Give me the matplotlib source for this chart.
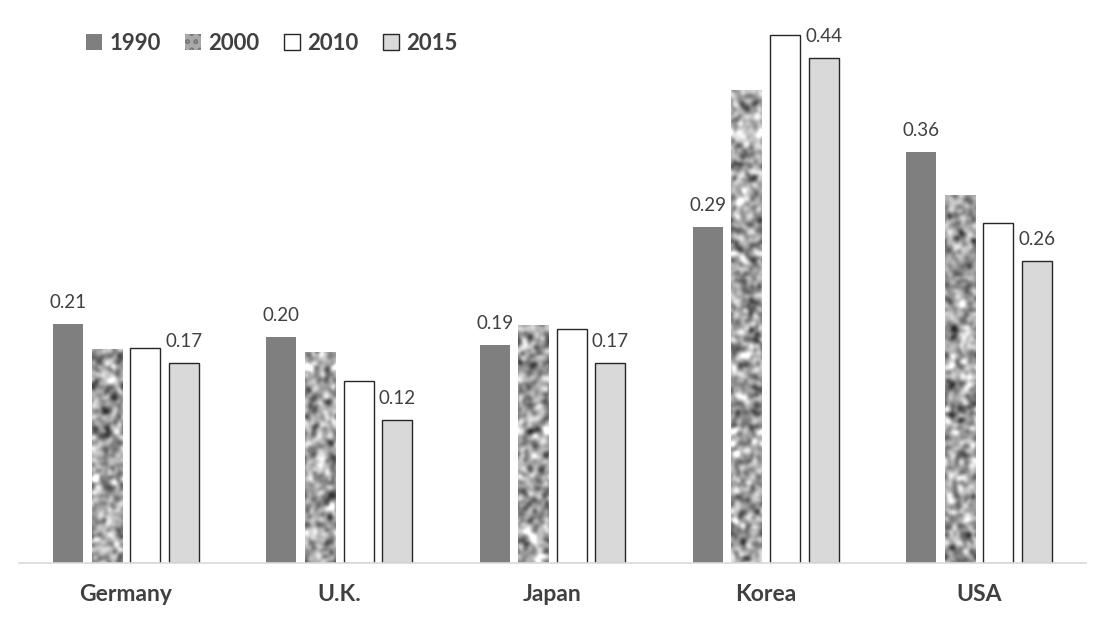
import numpy as np
import matplotlib
matplotlib.use("Agg")
import matplotlib.pyplot as plt
from matplotlib.patches import Patch

categories = ["Germany", "U.K.", "Japan", "Korea", "USA"]
years = ["1990", "2000", "2010", "2015"]
v1990 = [0.208, 0.196, 0.189, 0.292, 0.357]
v2000 = [0.186, 0.183, 0.207, 0.411, 0.320]
v2010 = [0.187, 0.158, 0.203, 0.459, 0.295]
v2015 = [0.174, 0.124, 0.174, 0.439, 0.262]
labelled = {"1990": True, "2000": False, "2010": False, "2015": True}

W, H = 1102, 624
fig = plt.figure(figsize=(W / 100, H / 100), dpi=100)
ax_left, ax_right = 19.4 / W, 1085.6 / W
ax_bottom = (H - 562.7) / H
ax_top = (H - 30) / H
ax = fig.add_axes([ax_left, ax_bottom, ax_right - ax_left, ax_top - ax_bottom])

ymax = (562.7 - 30) / 1150
ax.set_ylim(0, ymax)
ax.set_xlim(-0.5, len(categories) - 0.5)

x = np.arange(len(categories))
pitch = 0.181
width = 0.1407
txt_color = "#404040"

styles = {
    "1990": dict(facecolor="#7f7f7f", edgecolor="none", linewidth=0),
    "2000": dict(facecolor="#a8a8a8", edgecolor="none", linewidth=0),
    "2010": dict(facecolor="white", edgecolor="#262626", linewidth=1.0),
    "2015": dict(facecolor="#d9d9d9", edgecolor="#262626", linewidth=1.0),
}
series = {"1990": v1990, "2000": v2000, "2010": v2010, "2015": v2015}


def texture(seed, rows=540, cols=32):
    # smooth marble-like grey noise (purely decorative fill)
    r = np.random.default_rng(seed)
    n = r.random((rows, cols))
    k = np.exp(-0.5 * (np.arange(-7, 8) / 2.4) ** 2)
    k /= k.sum()
    p = len(k) // 2
    n = np.pad(n, p, mode="wrap")
    n = np.apply_along_axis(lambda c: np.convolve(c, k, mode="valid"), 0, n)
    n = np.apply_along_axis(lambda c: np.convolve(c, k, mode="valid"), 1, n)
    n = (n - n.mean()) / n.std()
    return n


for i, yr in enumerate(years):
    vals = series[yr]
    bars = ax.bar(x + (i - 1.5) * pitch, vals, width, **styles[yr], zorder=2)
    if yr == "2000":
        for j, b in enumerate(bars):
            bx = b.get_x()
            bw = b.get_width()
            im = ax.imshow(texture(10 + j), cmap="gray", vmin=-4.6, vmax=2.6,
                           extent=[bx, bx + bw, 0, ymax], aspect="auto",
                           interpolation="bilinear", zorder=2.5)
            im.set_clip_path(b)
    if labelled[yr]:
        for b, v in zip(bars, vals):
            ax.annotate(f"{v:.2f}", (b.get_x() + b.get_width() / 2, v),
                        xytext=(0, 11.5), textcoords="offset points",
                        ha="center", va="baseline", fontsize=13.5,
                        family="Lato", color=txt_color, annotation_clip=False)

ax.set_xticks(x)
ax.set_xticklabels(categories, fontsize=16.5, fontweight="bold", family="Lato",
                   color=txt_color)
ax.tick_params(axis="x", length=0, pad=15)
ax.set_yticks([])
for s in ["top", "left", "right"]:
    ax.spines[s].set_visible(False)
ax.spines["bottom"].set_color("#d9d9d9")
ax.spines["bottom"].set_linewidth(1.2)
ax.spines["bottom"].set_zorder(3)

handles = [
    Patch(facecolor="#7f7f7f", edgecolor="none"),
    Patch(facecolor="#a8a8a8", edgecolor="#7a7a7a", hatch="oo", linewidth=0),
    Patch(facecolor="white", edgecolor="#262626", linewidth=1.0),
    Patch(facecolor="#d9d9d9", edgecolor="#262626", linewidth=1.0),
]
leg = fig.legend(handles, years, loc="upper left",
                 bbox_to_anchor=(86 / W, 1 - 33 / H), ncol=4, frameon=False,
                 prop={"family": "Lato", "weight": "bold", "size": 16},
                 handlelength=0.7, handleheight=0.7, handletextpad=0.35,
                 columnspacing=1.1, borderpad=0, borderaxespad=0)
for t in leg.get_texts():
    t.set_color(txt_color)

fig.savefig("out.png", dpi=100)
